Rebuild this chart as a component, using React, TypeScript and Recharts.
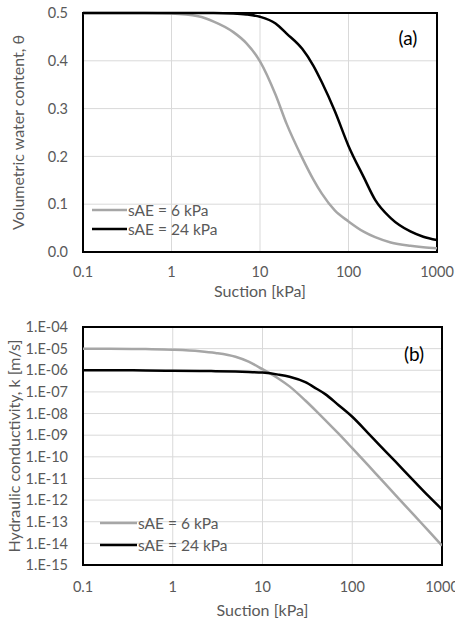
import React from "react";
import { LineChart, Line, XAxis, YAxis, CartesianGrid, ReferenceArea } from "recharts";

// suction values shared by both panels [kPa]
const suction = [0.1, 0.2, 0.5, 1, 2, 3, 5, 7, 10, 15, 20, 30, 40, 50, 70, 100, 150, 200, 300, 500, 700, 1000];

// panel (a) volumetric water content
const thetaSae6 = [0.5, 0.5, 0.5, 0.499, 0.493, 0.482, 0.46, 0.437, 0.399, 0.329, 0.268, 0.197, 0.152, 0.122, 0.087, 0.064, 0.042, 0.031, 0.02, 0.013, 0.01, 0.008];
const thetaSae24 = [0.5, 0.5, 0.5, 0.5, 0.5, 0.5, 0.499, 0.497, 0.492, 0.478, 0.457, 0.425, 0.39, 0.355, 0.295, 0.222, 0.155, 0.109, 0.071, 0.043, 0.032, 0.025];

// panel (b) hydraulic conductivity [m/s]
const kSae6 = [1.0e-5, 1.0e-5, 9.5e-6, 8.9e-6, 7.6e-6, 6.3e-6, 4.2e-6, 2.5e-6, 1.12e-6, 4.2e-7, 1.8e-7, 4.0e-8, 1.26e-8, 5.0e-9, 1.2e-9, 2.5e-10, 4.1e-11, 1.12e-11, 1.8e-12, 1.8e-13, 4.0e-14, 7.9e-15];
const kSae24 = [1.0e-6, 1.0e-6, 9.8e-7, 9.5e-7, 9.3e-7, 9.1e-7, 8.7e-7, 8.3e-7, 7.8e-7, 6.3e-7, 5.0e-7, 2.8e-7, 1.4e-7, 7.9e-8, 2.5e-8, 7.1e-9, 1.26e-9, 3.6e-10, 6.3e-11, 6.8e-12, 1.6e-12, 3.7e-13];

const seriesNames = ["sAE = 6 kPa", "sAE = 24 kPa"];
const xTicks = [0.1, 1, 10, 100, 1000];
const thetaTicks = [0, 0.1, 0.2, 0.3, 0.4, 0.5];
const kTicks = [1e-15, 1e-14, 1e-13, 1e-12, 1e-11, 1e-10, 1e-9, 1e-8, 1e-7, 1e-6, 1e-5, 1e-4];

const thetaData = suction.map((s, i) => ({ s, a: thetaSae6[i], b: thetaSae24[i] }));
const kData = suction.map((s, i) => ({ s, a: kSae6[i], b: kSae24[i] }));

const FONT = "Lato, 'Open Sans', sans-serif";
const TEXT = "#595959";
const GREY = "#a6a6a6";
const tickStyle = { fill: TEXT, fontSize: 14.5, fontFamily: FONT };
const titleStyle = { fill: TEXT, fontSize: 16, fontFamily: FONT };

const fmtK = (v: number) => "1.E-" + String(Math.round(-Math.log10(v))).padStart(2, "0");

function LegendBox({ left, top, gap, lineW }: { left: number; top: number; gap: number; lineW: number }) {
  const colors = [GREY, "#000"];
  return (
    <div style={{ position: "absolute", left, top, fontFamily: FONT, fontSize: 15.5, color: TEXT }}>
      {seriesNames.map((n, i) => (
        <div key={n} style={{ position: "absolute", top: i * gap, left: 0, display: "flex", alignItems: "center", whiteSpace: "nowrap", height: 18, marginTop: -9 }}>
          <svg width={lineW} height={4} style={{ display: "block" }}>
            <line x1={0} y1={2} x2={lineW} y2={2} stroke={colors[i]} strokeWidth={2.5} />
          </svg>
          <span style={{ marginLeft: 1 }}>{n}</span>
        </div>
      ))}
    </div>
  );
}

const tag = (text: string, left: number, top: number) => (
  <div style={{ position: "absolute", left, top, transform: "translate(-50%, -50%)", fontFamily: FONT, fontSize: 19, color: "#000" }}>{text}</div>
);

export default function App() {
  return (
    <div style={{ position: "absolute", left: 0, top: 0, width: 455, height: 621, background: "#fff", overflow: "hidden" }}>
      {/* (a) water retention */}
      <div style={{ position: "absolute", left: 0, top: 0 }}>
        <LineChart width={455} height={300} data={thetaData} margin={{ top: 13, right: 18, left: 0, bottom: 0 }}>
          <CartesianGrid stroke="#d9d9d9" />
          <XAxis
            dataKey="s" type="number" scale="log" domain={[0.1, 1000]} ticks={xTicks} allowDataOverflow interval={0}
            axisLine={false} tickLine={false} tickSize={0} tickMargin={15} height={48}
            tick={tickStyle} tickFormatter={(v) => String(v)}
            label={{ value: "Suction [kPa]", position: "insideBottom", offset: 3, style: titleStyle }}
          />
          <YAxis
            type="number" domain={[0, 0.5]} ticks={thetaTicks} width={83} interval={0}
            axisLine={false} tickLine={false} tickSize={0} tickMargin={15}
            tick={tickStyle} tickFormatter={(v) => v.toFixed(1)}
            label={{ value: "Volumetric water content, θ", angle: -90, position: "insideLeft", offset: 18, style: { ...titleStyle, textAnchor: "middle" } }}
          />
          <ReferenceArea x1={0.1} x2={1000} y1={0} y2={0.5} fill="none" stroke="#000" strokeWidth={2} />
          <Line type="monotone" dataKey="a" stroke={GREY} strokeWidth={2.5} dot={false} isAnimationActive={false} />
          <Line type="monotone" dataKey="b" stroke="#000" strokeWidth={2.5} dot={false} isAnimationActive={false} />
        </LineChart>
        <LegendBox left={92} top={210} gap={19} lineW={35} />
        {tag("(a)", 408, 37)}
      </div>

      {/* (b) hydraulic conductivity */}
      <div style={{ position: "absolute", left: 0, top: 300 }}>
        <LineChart width={455} height={321} data={kData} margin={{ top: 27, right: 13, left: 0, bottom: 0 }}>
          <CartesianGrid stroke="#d9d9d9" />
          <XAxis
            dataKey="s" type="number" scale="log" domain={[0.1, 1000]} ticks={xTicks} allowDataOverflow interval={0}
            axisLine={false} tickLine={false} tickSize={0} tickMargin={17} height={56}
            tick={tickStyle} tickFormatter={(v) => String(v)}
            label={{ value: "Suction [kPa]", position: "insideBottom", offset: 5, style: titleStyle }}
          />
          <YAxis
            type="number" scale="log" domain={[1e-15, 1e-4]} ticks={kTicks} allowDataOverflow width={83} interval={0}
            axisLine={false} tickLine={false} tickSize={0} tickMargin={15}
            tick={tickStyle} tickFormatter={fmtK}
            label={{ value: "Hydraulic conductivity, k [m/s]", angle: -90, position: "insideLeft", offset: 14, style: { ...titleStyle, textAnchor: "middle" } }}
          />
          <ReferenceArea x1={0.1} x2={1000} y1={1e-15} y2={1e-4} fill="none" stroke="#000" strokeWidth={2} />
          <Line type="monotone" dataKey="a" stroke={GREY} strokeWidth={2.5} dot={false} isAnimationActive={false} />
          <Line type="monotone" dataKey="b" stroke="#000" strokeWidth={2.5} dot={false} isAnimationActive={false} />
        </LineChart>
        <LegendBox left={100} top={223} gap={22} lineW={37} />
        {tag("(b)", 414, 53)}
      </div>
    </div>
  );
}
